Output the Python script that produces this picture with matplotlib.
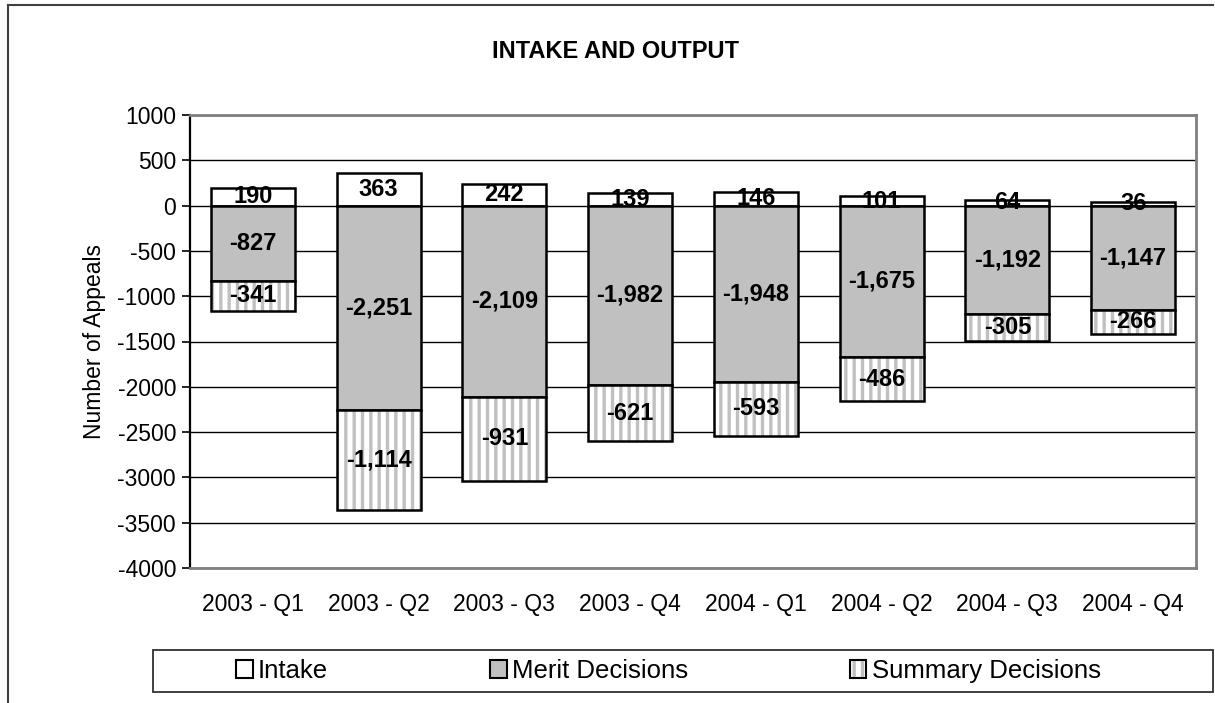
import matplotlib
matplotlib.use("Agg")
import matplotlib.pyplot as plt
from matplotlib.patches import Patch, Rectangle
from matplotlib.lines import Line2D
from matplotlib.legend_handler import HandlerTuple

plt.rcParams['font.family'] = ['Liberation Sans', 'DejaVu Sans']
plt.rcParams['hatch.linewidth'] = 2.4
plt.rcParams['axes.unicode_minus'] = False

quarters = ['2003 - Q1', '2003 - Q2', '2003 - Q3', '2003 - Q4',
            '2004 - Q1', '2004 - Q2', '2004 - Q3', '2004 - Q4']
intake = [190, 363, 242, 139, 146, 101, 64, 36]
merit = [-827, -2251, -2109, -1982, -1948, -1675, -1192, -1147]
summary = [-341, -1114, -931, -621, -593, -486, -305, -266]

GRAY = '#c0c0c0'
W = 0.667

fig = plt.figure(figsize=(12.15, 7.03), dpi=100)
ax = fig.add_axes([190 / 1215, 1 - 568 / 703, (1196 - 190) / 1215, (568 - 115) / 703])

x = list(range(len(quarters)))

# intake above zero, merit below zero, summary below merit
ax.bar(x, intake, W, color='white', edgecolor='black', linewidth=1.8, zorder=3)
ax.bar(x, merit, W, color=GRAY, edgecolor='black', linewidth=1.8, zorder=3)
ax.bar(x, summary, W, bottom=merit, color='white', edgecolor=GRAY, linewidth=0,
       hatch='||', zorder=3)
ax.bar(x, summary, W, bottom=merit, fill=False, edgecolor='black', linewidth=1.8, zorder=4)

for i in x:
    ax.text(i, intake[i] / 2, f"{intake[i]:,}", ha='center', va='center',
            fontsize=17, fontweight='bold', zorder=5)
    ax.text(i, merit[i] / 2, f"{merit[i]:,}", ha='center', va='center',
            fontsize=17, fontweight='bold', zorder=5)
    ax.text(i, merit[i] + summary[i] / 2, f"{summary[i]:,}", ha='center', va='center',
            fontsize=17, fontweight='bold', zorder=5)

ax.set_xlim(-0.5, len(quarters) - 0.5)
ax.set_ylim(-4000, 1000)
ax.set_yticks(range(-4000, 1001, 500))
ax.set_xticks(x)
ax.set_xticklabels(quarters)
ax.tick_params(axis='x', length=0, pad=18, labelsize=16.5)
ax.tick_params(axis='y', length=6, width=1.2, direction='out', labelsize=16.5, pad=4)
ax.yaxis.grid(True, color='black', linewidth=1.0, zorder=0)
ax.set_axisbelow(True)
ax.set_ylabel('Number of Appeals', fontsize=16.5, labelpad=8)

ax.spines['left'].set_color('black')
ax.spines['left'].set_linewidth(1.6)
for s in ['top', 'right', 'bottom']:
    ax.spines[s].set_color('#808080')
    ax.spines[s].set_linewidth(2)

fig.text(615 / 1215, 1 - 52 / 703, 'INTAKE AND OUTPUT', ha='center', va='center',
         fontsize=17, fontweight='bold')

# outer chart frame (top and left edges)
fig.add_artist(Line2D([8 / 1215, 8 / 1215], [0, 1 - 5 / 703], transform=fig.transFigure,
                      color='#404040', linewidth=1.5))
fig.add_artist(Line2D([8 / 1215, 1213 / 1215], [1 - 5 / 703, 1 - 5 / 703],
                      transform=fig.transFigure, color='#404040', linewidth=1.5))

# legend frame
fig.add_artist(Rectangle((153 / 1215, 1 - 692 / 703), (1213 - 153) / 1215, 42 / 703,
                         transform=fig.transFigure, fill=False, edgecolor='#303030',
                         linewidth=1.3))

h_intake = Patch(facecolor='white', edgecolor='black', linewidth=1.5)
h_merit = Patch(facecolor=GRAY, edgecolor='black', linewidth=1.5)
h_summary = (Patch(facecolor='white', edgecolor=GRAY, linewidth=0, hatch='||'),
             Patch(fill=False, edgecolor='black', linewidth=1.5))
fig.legend([h_intake, h_merit, h_summary], ['Intake', 'Merit Decisions', 'Summary Decisions'],
           handler_map={tuple: HandlerTuple(ndivide=1, pad=0)},
           loc='center left', bbox_to_anchor=(236 / 1215, 1 - 671 / 703), ncol=3,
           frameon=False, fontsize=18.5, handlelength=0.65, handleheight=0.65,
           handletextpad=0.2, columnspacing=6.3, borderpad=0, borderaxespad=0)

fig.savefig('out.png', dpi=100)
